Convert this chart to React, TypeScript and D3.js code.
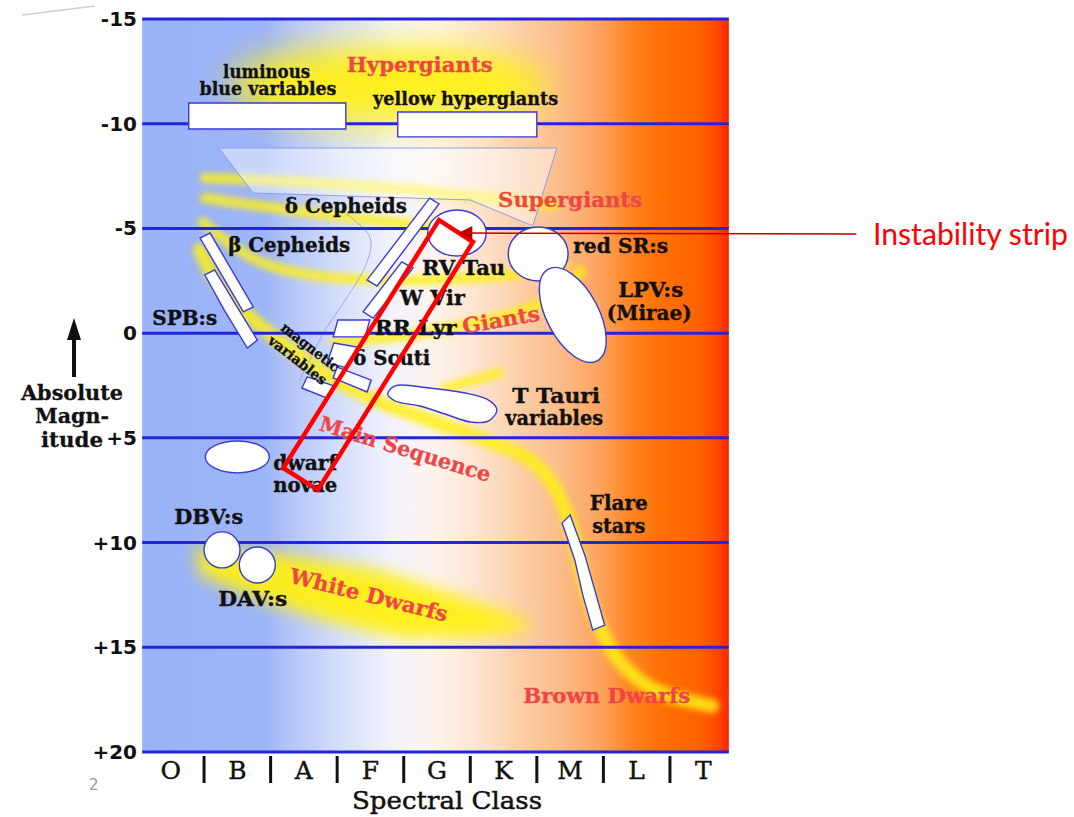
import React from "react";
import * as d3 from "d3";

type Pt = [number, number];

// ---------- axes ----------
const SPECTRAL_CLASSES = ["O", "B", "A", "F", "G", "K", "M", "L", "T"];
const MAGNITUDE_TICKS = [-15, -10, -5, 0, 5, 10, 15, 20];
const MAGNITUDE_TICK_LABELS = ["-15", "-10", "-5", "0", "+5", "+10", "+15", "+20"];
const PLOT_SPECTRAL_RANGE: [number, number] = [0.07, 8.885];

// ---------- yellow stellar populations [spectral position, abs. magnitude] ----------
const SUPERGIANT_TRACK_A: Pt[] = [[1.01, -7.41], [2.44, -7.22], [3.94, -6.88], [5.15, -6.5], [6.27, -6.12]];
const SUPERGIANT_TRACK_B: Pt[] = [[1.01, -6.45], [1.84, -6.07], [2.74, -5.69], [3.79, -5.31], [4.7, -5.02]];
const SUPERGIANT_TRACK_C: Pt[] = [[0.98, -5.31], [1.31, -4.45], [1.84, -3.4], [2.59, -2.78], [3.64, -2.54], [4.7, -2.59], [5.6, -2.78], [6.42, -3.25]];
const MAIN_SEQUENCE: Pt[] = [[0.94, -3.97], [1.13, -2.78], [1.46, -1.44], [1.92, -0.15], [2.44, 1.09], [2.97, 2.24], [3.64, 3.29], [4.39, 4.15], [5.22, 5.1], [5.9, 6.06], [6.27, 7.39], [6.5, 9.16], [6.69, 11.55], [6.9, 13.7], [7.25, 15.7], [7.77, 17.04], [8.63, 17.8]];
const GIANT_BRANCH: Pt[] = [[2.97, 0.42], [3.94, 0.14], [4.85, -0.34], [5.75, -1.01], [6.35, -1.96], [6.65, -2.92]];
const SUBGIANT_BRANCH: Pt[] = [[4.62, 2.62], [5.0, 2.29], [5.45, 1.9]];
const WHITE_DWARF_REGION: Pt[] = [[0.86, 10.26], [2.29, 10.59], [3.64, 11.31], [4.55, 12.26], [5.45, 13.22], [5.9, 13.79], [5.75, 14.27], [5.0, 14.56], [3.94, 14.56], [2.89, 13.79], [1.84, 12.74], [0.94, 11.55]];
// [specMin, specMax, magMin, magMax]
const HYPERGIANT_REGION = [1.39, 6.19, -13.76, -9.94];

// ---------- variable star regions ----------
const LBV_BOX: Pt[] = [[0.77, -10.99], [3.13, -10.99], [3.13, -9.75], [0.77, -9.75]];
const YHG_BOX: Pt[] = [[3.91, -10.56], [6.0, -10.56], [6.0, -9.37], [3.91, -9.37]];
const DELTA_CEPHEID_BOX: Pt[] = [[4.39, -6.45], [4.53, -6.17], [3.6, -2.25], [3.45, -2.54]];
const W_VIR_BOX: Pt[] = [[3.97, -3.4], [4.14, -3.11], [3.54, -0.72], [3.39, -1.02]];
const RR_LYR_BOX: Pt[] = [[3.01, -0.63], [3.49, -0.63], [3.42, 0.18], [2.94, 0.18]];
const DELTA_SCUTI_BOX: Pt[] = [[2.95, 0.47], [3.3, 0.66], [3.15, 1.66], [2.85, 1.43]];
const MAGNETIC_BOX_A: Pt[] = [[3.0, 1.62], [3.51, 2.24], [3.45, 2.81], [2.94, 2.14]];
const MAGNETIC_BOX_B: Pt[] = [[2.55, 2.09], [2.95, 2.52], [2.85, 3.1], [2.47, 2.62]];
const BETA_CEPHEID_BOX: Pt[] = [[0.94, -4.54], [1.09, -4.78], [1.74, -1.25], [1.59, -1.02]];
const SPB_BOX: Pt[] = [[1.01, -2.78], [1.16, -3.02], [1.48, -1.34], [1.8, 0.33], [1.65, 0.71], [1.31, -1.06]];
const FLARE_BOX: Pt[] = [[6.5, 8.68], [6.72, 10.59], [6.87, 12.26], [7.02, 13.94], [6.84, 14.18], [6.69, 12.5], [6.57, 10.83], [6.38, 9.07]];
const T_TAURI_REGION: Pt[] = [[3.87, 2.52], [4.39, 2.62], [4.92, 2.86], [5.27, 3.19], [5.4, 3.67], [5.27, 4.2], [5.0, 4.24], [4.62, 3.86], [4.24, 3.48], [3.87, 3.24], [3.76, 2.91]];
// ellipses: [specMin, specMax, magMin, magMax]
const RV_TAU_REGION = [4.36, 5.24, -5.88, -3.68];
const RED_SR_REGION = [5.57, 6.47, -5.07, -2.49];
const DWARF_NOVAE_REGION = [1.02, 1.98, 5.15, 6.67];
const DBV_REGION = [1.0, 1.54, 9.49, 11.21];
const DAV_REGION = [1.53, 2.07, 10.21, 11.93];
const LPV_REGION = [6.15, 6.93, -3.35, 1.61];

const CEPHEID_ZONE_OUTLINE: Pt[] = [[1.22, -8.84], [6.3, -8.84], [5.94, -5.12], [5.0, -6.36], [1.74, -6.69]];
const PALE_CURVE: Pt[] = [[3.0, -6.02], [3.49, -4.59], [3.45, -3.4], [3.12, -1.58], [2.82, -0.15], [2.44, 2.24]];

const INSTABILITY_STRIP: Pt[] = [[4.53, -5.4], [5.04, -4.35], [2.71, 7.49], [2.19, 6.44]];
const ANNOTATION_LINE: Pt[] = [[10.8, -4.73], [4.95, -4.78]];
const ANNOTATION_TIP: Pt = [4.82, -4.78];
const ANNOTATION_TEXT_POS: Pt = [11.05, -4.21];

// ---------- labels: [text, spectral pos, magnitude] ----------
const BLACK_LABELS: [string, number, number][] = [
  ["luminous", 1.94, -12.18],
  ["blue variables", 1.96, -11.37],
  ["yellow hypergiants", 4.93, -10.89],
  ["δ Cepheids", 3.13, -5.74],
  ["β Cepheids", 2.28, -3.87],
  ["RV Tau", 4.9, -2.78],
  ["red SR:s", 7.26, -3.83],
  ["W Vir", 4.43, -1.34],
  ["LPV:s", 7.71, -1.73],
  ["(Mirae)", 7.69, -0.63],
  ["SPB:s", 0.71, -0.39],
  ["RR Lyr", 4.18, 0.09],
  ["δ Scuti", 3.82, 1.52],
  ["magnetic", 2.55, 0.85],
  ["variables", 2.36, 1.47],
  ["T Tauri", 6.29, 3.34],
  ["variables", 6.26, 4.39],
  ["dwarf", 2.52, 6.53],
  ["novae", 2.52, 7.58],
  ["Flare", 7.23, 8.44],
  ["stars", 7.23, 9.54],
  ["DBV:s", 1.07, 9.11],
  ["DAV:s", 1.73, 13.03],
];
const BLACK_LABEL_WIDTHS = [87, 137, 185, 122, 122, 83, 95, 65, 65, 85, 65, 82, 77, 70, 70, 88, 98, 64, 64, 58, 53, 69, 69];
const BLACK_LABEL_ROTATION = [0, 0, 0, 0, 0, 0, 0, 0, 0, 0, 0, 0, 0, 38, 38, 0, 0, 0, 0, 0, 0, 0, 0];
const BLACK_LABEL_SIZE = [19, 19, 19, 20, 20, 20, 20, 20, 20, 20, 20, 20, 20, 14, 14, 21, 21, 20, 20, 20, 20, 20, 20];

const RED_LABELS: [string, number, number][] = [
  ["Hypergiants", 4.24, -12.47],
  ["Supergiants", 6.5, -6.02],
  ["Giants", 5.48, -0.29],
  ["Main Sequence", 3.99, 5.87],
  ["White Dwarfs", 3.45, 12.84],
  ["Brown Dwarfs", 7.05, 17.66],
];
const RED_LABEL_WIDTHS = [146, 144, 78, 178, 162, 167];
const RED_LABEL_ROTATION = [0, 0, -10, 17, 14, 0];

const GRADIENT_STOPS: [number, string][] = [
  [0, "#9ab2f8"], [0.21, "#9db5f8"], [0.25, "#b3c4f9"], [0.34, "#d6dffb"], [0.43, "#f4f4fd"],
  [0.5, "#fdf3ec"], [0.58, "#fde2cc"], [0.64, "#fcd0ab"], [0.71, "#fbbd8a"], [0.78, "#fca45e"],
  [0.83, "#ff8626"], [0.88, "#ff7206"], [0.95, "#ff6200"], [0.98, "#ff4800"], [1, "#ff2600"],
];

const SERIF = "'DejaVu Serif', 'Liberation Serif', serif";
const BLUE_LINE = "#2424dc";
const BOX_STROKE = "#3a3ad6";
const RED_TEXT = "#ee4646";
const YELLOW = "#fff019";

export default function App() {
  const x = d3.scaleLinear().domain([0, 9]).range([137.5, 736.5]);
  const y = d3.scaleLinear().domain([-15, 20]).range([19, 752]);
  const band = d3.scaleBand<string>().domain(SPECTRAL_CLASSES).range([137.5, 736.5]);

  const px0 = x(PLOT_SPECTRAL_RANGE[0]);
  const px1 = x(PLOT_SPECTRAL_RANGE[1]);
  const py0 = y(-15);
  const py1 = y(20);

  const smooth = d3.line<Pt>().x((d) => x(d[0])).y((d) => y(d[1])).curve(d3.curveCatmullRom.alpha(0.5));
  const poly = d3.line<Pt>().x((d) => x(d[0])).y((d) => y(d[1])).curve(d3.curveLinearClosed);
  const smoothClosed = d3.line<Pt>().x((d) => x(d[0])).y((d) => y(d[1])).curve(d3.curveCatmullRomClosed.alpha(0.5));
  const straight = d3.line<Pt>().x((d) => x(d[0])).y((d) => y(d[1]));

  const ell = (r: number[], key: string, extra: any = {}) => (
    <ellipse
      key={key}
      cx={(x(r[0]) + x(r[1])) / 2}
      cy={(y(r[2]) + y(r[3])) / 2}
      rx={(x(r[1]) - x(r[0])) / 2}
      ry={(y(r[3]) - y(r[2])) / 2}
      {...extra}
    />
  );

  const boxStyle = { fill: "#ffffff", stroke: BOX_STROKE, strokeWidth: 1.4 };
  const boxes = [LBV_BOX, YHG_BOX, DELTA_CEPHEID_BOX, W_VIR_BOX, RR_LYR_BOX, DELTA_SCUTI_BOX, MAGNETIC_BOX_A, MAGNETIC_BOX_B, BETA_CEPHEID_BOX, SPB_BOX, FLARE_BOX];

  const tip: [number, number] = [x(ANNOTATION_TIP[0]), y(ANNOTATION_TIP[1])];
  const lpvCx = (x(LPV_REGION[0]) + x(LPV_REGION[1])) / 2;
  const lpvCy = (y(LPV_REGION[2]) + y(LPV_REGION[3])) / 2;

  return (
    <svg
      width={1074}
      height={817}
      style={{ position: "absolute", left: 0, top: 0, background: "#ffffff" }}
    >
      <defs>
        <linearGradient id="specGrad" gradientUnits="userSpaceOnUse" x1={px0} x2={px1} y1={0} y2={0}>
          {GRADIENT_STOPS.map(([o, c]) => (
            <stop key={o} offset={o} stopColor={c} />
          ))}
        </linearGradient>
        <filter id="blurS" filterUnits="userSpaceOnUse" x={0} y={0} width={1074} height={817}>
          <feGaussianBlur stdDeviation={3.2} />
        </filter>
        <filter id="blurM" filterUnits="userSpaceOnUse" x={0} y={0} width={1074} height={817}>
          <feGaussianBlur stdDeviation={8} />
        </filter>
        <filter id="blurL" filterUnits="userSpaceOnUse" x={0} y={0} width={1074} height={817}>
          <feGaussianBlur stdDeviation={16} />
        </filter>
        <clipPath id="plotClip">
          <rect x={px0} y={py0} width={px1 - px0} height={py1 - py0} />
        </clipPath>
      </defs>

      {/* decoration line at top-left */}
      <line x1={22} y1={15} x2={95} y2={6} stroke="#d0d0d0" strokeWidth={1.5} />

      {/* background */}
      <rect x={px0} y={py0} width={px1 - px0} height={py1 - py0} fill="url(#specGrad)" />

      {/* yellow populations */}
      <g clipPath="url(#plotClip)">
        {ell(HYPERGIANT_REGION, "hyper", { fill: YELLOW, opacity: 0.95, filter: "url(#blurL)" })}
        <path d={poly(WHITE_DWARF_REGION) || ""} fill={YELLOW} opacity={0.95} filter="url(#blurM)" />
        <g filter="url(#blurS)" fill="none" stroke={YELLOW} strokeLinecap="round" opacity={0.85}>
          <path d={smooth(SUPERGIANT_TRACK_A) || ""} strokeWidth={10} />
          <path d={smooth(SUPERGIANT_TRACK_B) || ""} strokeWidth={10} />
          <path d={smooth(SUPERGIANT_TRACK_C) || ""} strokeWidth={10} />
          <path d={smooth(GIANT_BRANCH) || ""} strokeWidth={11} />
          <path d={smooth(SUBGIANT_BRANCH) || ""} strokeWidth={9} />
          <path d={smooth(MAIN_SEQUENCE) || ""} strokeWidth={14} />
        </g>
      </g>

      {/* pale cepheid zone */}
      <path d={poly(CEPHEID_ZONE_OUTLINE) || ""} fill="#ffffff" fillOpacity={0.45} stroke="#8e9ce6" strokeWidth={1} />
      <path d={smooth(PALE_CURVE) || ""} fill="none" stroke="#8e9ce6" strokeWidth={1} opacity={0.8} />

      {/* horizontal magnitude lines */}
      {MAGNITUDE_TICKS.map((m) => (
        <line key={m} x1={px0} x2={px1} y1={y(m)} y2={y(m)} stroke={BLUE_LINE} strokeWidth={3} />
      ))}

      {/* variable star regions */}
      {boxes.map((b, i) => (
        <path key={i} d={poly(b) || ""} {...boxStyle} />
      ))}
      <path d={smoothClosed(T_TAURI_REGION) || ""} {...boxStyle} />
      {ell(RV_TAU_REGION, "rv", boxStyle)}
      {ell(RED_SR_REGION, "sr", boxStyle)}
      <ellipse
        cx={lpvCx}
        cy={lpvCy}
        rx={(x(LPV_REGION[1]) - x(LPV_REGION[0])) / 2}
        ry={(y(LPV_REGION[3]) - y(LPV_REGION[2])) / 2}
        transform={`rotate(-28 ${lpvCx} ${lpvCy})`}
        {...boxStyle}
      />
      {ell(DWARF_NOVAE_REGION, "dn", boxStyle)}
      {ell(DBV_REGION, "dbv", boxStyle)}
      {ell(DAV_REGION, "dav", boxStyle)}

      {/* black labels */}
      {BLACK_LABELS.map(([t, s, m], i) => (
        <text
          key={i}
          transform={`translate(${x(s)},${y(m)}) rotate(${BLACK_LABEL_ROTATION[i]})`}
          textAnchor="middle"
          fontFamily={SERIF}
          fontWeight="bold"
          fontSize={BLACK_LABEL_SIZE[i]}
          fill="#111"
          stroke="#111"
          strokeWidth={0.35}
          textLength={BLACK_LABEL_WIDTHS[i]}
          lengthAdjust="spacingAndGlyphs"
        >
          {t}
        </text>
      ))}

      {/* red population labels */}
      {RED_LABELS.map(([t, s, m], i) => (
        <text
          key={i}
          transform={`translate(${x(s)},${y(m)}) rotate(${RED_LABEL_ROTATION[i]})`}
          textAnchor="middle"
          fontFamily={SERIF}
          fontWeight="bold"
          fontSize={21}
          fill={RED_TEXT}
          stroke={RED_TEXT}
          strokeWidth={0.3}
          textLength={RED_LABEL_WIDTHS[i]}
          lengthAdjust="spacingAndGlyphs"
        >
          {t}
        </text>
      ))}

      {/* instability strip */}
      <path d={poly(INSTABILITY_STRIP) || ""} fill="none" stroke="#ff0000" strokeWidth={4.5} strokeLinejoin="miter" />
      <path d={straight(ANNOTATION_LINE) || ""} stroke="#c00000" strokeWidth={1.5} fill="none" />
      <polygon
        points={`${tip[0]},${tip[1]} ${tip[0] + 14},${tip[1] - 7} ${tip[0] + 14},${tip[1] + 7}`}
        fill="#c00000"
      />
      <text
        x={x(ANNOTATION_TEXT_POS[0])}
        y={y(ANNOTATION_TEXT_POS[1])}
        fontFamily="Lato, 'Open Sans', sans-serif"
        fontSize={31}
        fill="#ff0000"
        textLength={195}
        lengthAdjust="spacingAndGlyphs"
      >
        Instability strip
      </text>

      {/* y-axis tick labels */}
      {MAGNITUDE_TICKS.map((m, i) => (
        <text
          key={m}
          x={137}
          y={y(m) + 7}
          textAnchor="end"
          fontFamily="'DejaVu Sans', sans-serif"
          fontWeight="bold"
          fontSize={20}
          fill="#111"
        >
          {MAGNITUDE_TICK_LABELS[i]}
        </text>
      ))}

      {/* y-axis title */}
      <line x1={74} y1={377} x2={74} y2={336} stroke="#111" strokeWidth={4} />
      <polygon points="74,318 67,340 81,340" fill="#111" />
      {[
        ["Absolute", 400, 102],
        ["Magn-", 423, 74],
        ["itude", 447, 62],
      ].map(([t, yy, w]) => (
        <text
          key={t as string}
          x={72}
          y={yy as number}
          textAnchor="middle"
          fontFamily={SERIF}
          fontWeight="bold"
          fontSize={21}
          fill="#111"
          stroke="#111"
          strokeWidth={0.3}
          textLength={w as number}
          lengthAdjust="spacingAndGlyphs"
        >
          {t}
        </text>
      ))}

      {/* x-axis */}
      {SPECTRAL_CLASSES.slice(1).map((c) => (
        <line key={c} x1={band(c)!} x2={band(c)!} y1={756} y2={783} stroke="#111" strokeWidth={3} />
      ))}
      {SPECTRAL_CLASSES.map((c) => (
        <text
          key={c}
          x={band(c)! + band.bandwidth() / 2}
          y={779}
          textAnchor="middle"
          fontFamily={SERIF}
          fontSize={25}
          fill="#111"
          stroke="#111"
          strokeWidth={0.4}
        >
          {c}
        </text>
      ))}
      <text
        x={447}
        y={809}
        textAnchor="middle"
        fontFamily={SERIF}
        fontSize={25}
        fill="#111"
        stroke="#111"
        strokeWidth={0.5}
        textLength={190}
        lengthAdjust="spacingAndGlyphs"
      >
        Spectral Class
      </text>

      {/* page number */}
      <text x={89} y={790} fontFamily="'DejaVu Sans', sans-serif" fontSize={15} fill="#999">
        2
      </text>
    </svg>
  );
}
